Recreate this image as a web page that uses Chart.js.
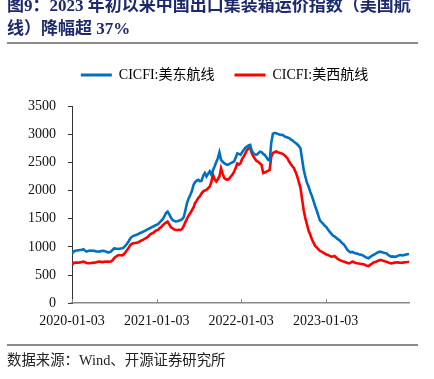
<!DOCTYPE html>
<html>
<head>
<meta charset="utf-8">
<script src="https://cdn.jsdelivr.net/npm/chart.js@4/dist/chart.umd.min.js"></script>
<style>
  html,body{margin:0;padding:0;background:#fff;}
  #wrap{position:relative;width:434px;height:379px;overflow:hidden;}
  #c{position:absolute;left:0;top:0;}
  .title{position:absolute;left:7px;top:-6px;width:430px;font:bold 17px 'Liberation Serif','Noto Sans CJK SC',serif;color:#1c2a6b;line-height:23px;white-space:nowrap;}
  .rule{position:absolute;left:7px;width:411px;height:0;border-top:2px solid #8a8a8a;}
  .src{position:absolute;left:7px;top:348px;font:14.4px 'Liberation Serif','Noto Sans CJK SC',serif;color:#222;white-space:nowrap;}
</style>
</head>
<body>
<div id="wrap">
  <canvas id="c" width="434" height="379"></canvas>
  <div class="title">图9：2023&nbsp;年初以来中国出口集装箱运价指数（美国航<br>线）降幅超&nbsp;37%</div>
  <div class="rule" style="top:42px"></div>
  <div class="rule" style="top:344px"></div>
  <div class="src">数据来源：Wind、开源证券研究所</div>
</div>
<script>
// Weekly observations starting 2020-01-03 (day offset = week index * 7)
const startDate = '2020-01-03';
const seriesNames = ['CICFI:美东航线', 'CICFI:美西航线'];
const eastCoast = [
 880,915,930,935,940,945,950,958,935,915,925,935,930,933,928,920,918,915,925,930,
 927,915,903,905,915,945,972,968,965,962,970,974,990,1020,1055,1100,1150,1180,1195,1205,
 1215,1230,1245,1255,1270,1285,1300,1315,1330,1345,1360,1375,1390,1400,1430,1460,1490,1540,1600,1625,
 1580,1520,1480,1460,1450,1455,1465,1475,1490,1530,1650,1780,1860,1920,1990,2100,2150,2175,2190,2165,
 2175,2260,2310,2250,2300,2340,2280,2360,2425,2500,2570,2675,2545,2510,2485,2465,2455,2470,2485,2500,
 2515,2580,2660,2650,2635,2680,2720,2760,2780,2800,2810,2700,2660,2640,2635,2660,2690,2680,2650,2630,
 2590,2545,2530,2850,3010,3020,3015,3005,2995,2985,2988,2965,2950,2940,2930,2905,2890,2865,2845,2820,
 2790,2750,2560,2370,2250,2140,2070,1980,1910,1820,1730,1650,1560,1470,1440,1410,1375,1350,1310,1270,
 1235,1200,1185,1160,1135,1120,1090,1060,1035,990,945,920,903,910,895,886,880,870,862,856,
 840,820,805,796,820,840,856,870,890,905,915,910,900,892,886,860,840,826,830,822,
 826,840,850,856,848,855,862,868,874
];
const westCoast = [
 680,715,722,720,718,725,730,737,728,715,710,708,715,720,718,728,735,737,733,730,
 738,735,737,735,738,760,800,826,845,856,852,850,870,905,945,985,1030,1055,1063,1070,
 1075,1081,1100,1115,1130,1145,1160,1185,1215,1235,1245,1270,1290,1300,1330,1350,1380,1410,1430,1448,
 1400,1350,1330,1310,1300,1298,1302,1300,1320,1370,1440,1500,1555,1600,1650,1700,1780,1820,1870,1900,
 1950,1985,2000,2011,2040,2070,2150,2280,2200,2160,2200,2250,2395,2300,2220,2200,2190,2210,2248,2280,
 2330,2400,2480,2460,2484,2560,2603,2660,2720,2745,2750,2660,2603,2560,2520,2510,2480,2455,2310,2320,
 2336,2350,2366,2600,2665,2680,2692,2680,2670,2662,2650,2630,2603,2570,2514,2470,2430,2396,2330,2250,
 2150,2050,1850,1650,1510,1400,1290,1220,1140,1080,1020,990,960,930,915,900,880,865,856,840,
 826,830,837,810,784,770,755,745,737,725,715,708,720,737,730,715,708,705,700,696,
 690,675,665,660,680,700,720,730,740,755,765,767,755,745,737,725,715,708,715,720,
 722,725,720,718,720,725,728,732,737
];
// x-axis tick labels and their day offsets from startDate
const xTickLabels = ['2020-01-03','2021-01-03','2022-01-03','2023-01-03'];
const xTickDays = [0, 366, 731, 1096];
const yTicks = [0,500,1000,1500,2000,2500,3000,3500];

const FONT = "'Liberation Serif','Noto Sans CJK SC',serif";
const toPoints = arr => arr.map((v,i)=>({x:i*7, y:v}));

const innerXTicks = {
  id:'innerXTicks',
  afterLayout(chart){
    const lg = chart.legend;
    if (lg){ lg.left += 20; lg.right += 20; lg.top -= 14; lg.bottom -= 14; }
  },
  afterDraw(chart){
    const xs = chart.scales.x, ctx = chart.ctx;
    ctx.save();
    ctx.strokeStyle = '#8a8a8a'; ctx.lineWidth = 1;
    xTickDays.forEach(d=>{
      const px = Math.round(xs.getPixelForValue(d))+0.5;
      ctx.beginPath(); ctx.moveTo(px, xs.top); ctx.lineTo(px, xs.top-4); ctx.stroke();
    });
    ctx.restore();
  }
};

new Chart(document.getElementById('c'), {
  type:'line',
  data:{
    datasets:[
      {label:seriesNames[0], data:toPoints(eastCoast), borderColor:'#0070C0', backgroundColor:'#0070C0', borderWidth:2.6, pointRadius:0, tension:0},
      {label:seriesNames[1], data:toPoints(westCoast), borderColor:'#FF0000', backgroundColor:'#FF0000', borderWidth:2.6, pointRadius:0, tension:0}
    ]
  },
  options:{
    responsive:false, animation:false,
    layout:{padding:{top:62,left:0,right:25,bottom:39}},
    plugins:{
      legend:{
        display:true, position:'top',
        labels:{
          font:{family:FONT,size:14}, color:'#111', boxWidth:31, boxHeight:3, padding:20,
          generateLabels(chart){
            return chart.data.datasets.map((ds,i)=>({text:ds.label, fillStyle:ds.borderColor, strokeStyle:ds.borderColor, lineWidth:0, datasetIndex:i, hidden:false}));
          }
        }
      },
      tooltip:{enabled:false}
    },
    scales:{
      x:{
        type:'linear', min:0, max:(eastCoast.length-1)*7,
        afterBuildTicks(scale){ scale.ticks = xTickDays.map(v=>({value:v})); },
        ticks:{
          autoSkip:false, maxRotation:0, padding:10, color:'#111',
          font:{family:FONT,size:14},
          callback(v){ const i = xTickDays.indexOf(v); return i>=0 ? xTickLabels[i] : ''; }
        },
        grid:{display:true, drawOnChartArea:false, drawTicks:false},
        border:{display:true, color:'#8a8a8a', width:1.5}
      },
      y:{
        min:0, max:3500,
        afterBuildTicks(scale){ scale.ticks = yTicks.map(v=>({value:v})); },
        afterFit(scale){ scale.width = 72; },
        ticks:{padding:12, color:'#111', font:{family:FONT,size:14}, callback(v){ return String(v); }},
        grid:{display:true, drawOnChartArea:false, drawTicks:true, tickLength:4, color:'#333'},
        border:{display:true, color:'#333', width:1}
      }
    }
  },
  plugins:[innerXTicks]
});
</script>
</body>
</html>
